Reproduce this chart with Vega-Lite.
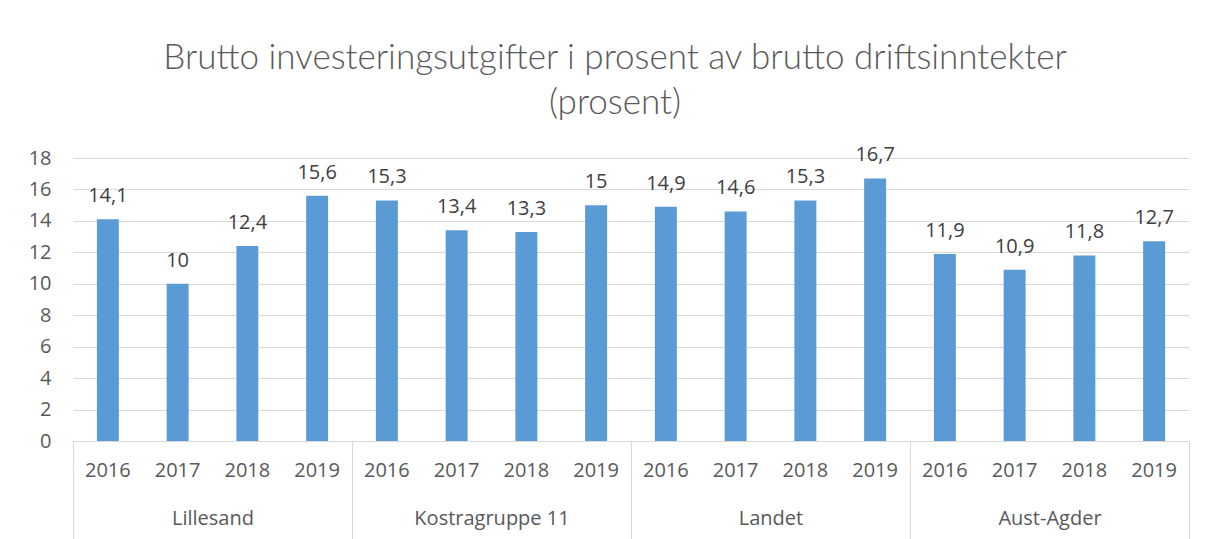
{
  "$schema": "https://vega.github.io/schema/vega-lite/v6.json",
  "width": 1116,
  "height": 283,
  "autosize": {"type": "none"},
  "padding": {"left": 73, "top": 158, "right": 19, "bottom": 98},
  "background": "white",
  "title": {
    "text": ["Brutto investeringsutgifter i prosent av brutto driftsinntekter", "(prosent)"],
    "orient": "top",
    "baseline": "bottom",
    "font": "Lato",
    "fontWeight": 300,
    "fontSize": 35,
    "color": "#595959",
    "lineHeight": 45,
    "anchor": "middle",
    "dx": -16,
    "offset": -11
  },
  "config": {
    "locale": {"number": {"decimal": ",", "thousands": " ", "grouping": [3], "currency": ["", " kr"]}},
    "view": {"stroke": null},
    "font": "Open Sans",
    "axis": {"labelFont": "Open Sans", "labelFontSize": 20, "labelColor": "#595959", "title": null, "labelOverlap": false}
  },
  "data": {
    "values": [
      {"gruppe": "Lillesand", "aar": "2016", "key": "Lillesand|2016", "verdi": 14.1},
      {"gruppe": "Lillesand", "aar": "2017", "key": "Lillesand|2017", "verdi": 10},
      {"gruppe": "Lillesand", "aar": "2018", "key": "Lillesand|2018", "verdi": 12.4},
      {"gruppe": "Lillesand", "aar": "2019", "key": "Lillesand|2019", "verdi": 15.6},
      {"gruppe": "Kostragruppe 11", "aar": "2016", "key": "Kostragruppe 11|2016", "verdi": 15.3},
      {"gruppe": "Kostragruppe 11", "aar": "2017", "key": "Kostragruppe 11|2017", "verdi": 13.4},
      {"gruppe": "Kostragruppe 11", "aar": "2018", "key": "Kostragruppe 11|2018", "verdi": 13.3},
      {"gruppe": "Kostragruppe 11", "aar": "2019", "key": "Kostragruppe 11|2019", "verdi": 15},
      {"gruppe": "Landet", "aar": "2016", "key": "Landet|2016", "verdi": 14.9},
      {"gruppe": "Landet", "aar": "2017", "key": "Landet|2017", "verdi": 14.6},
      {"gruppe": "Landet", "aar": "2018", "key": "Landet|2018", "verdi": 15.3},
      {"gruppe": "Landet", "aar": "2019", "key": "Landet|2019", "verdi": 16.7},
      {"gruppe": "Aust-Agder", "aar": "2016", "key": "Aust-Agder|2016", "verdi": 11.9},
      {"gruppe": "Aust-Agder", "aar": "2017", "key": "Aust-Agder|2017", "verdi": 10.9},
      {"gruppe": "Aust-Agder", "aar": "2018", "key": "Aust-Agder|2018", "verdi": 11.8},
      {"gruppe": "Aust-Agder", "aar": "2019", "key": "Aust-Agder|2019", "verdi": 12.7}
    ]
  },
  "encoding": {
    "y": {
      "field": "verdi",
      "type": "quantitative",
      "stack": null,
      "scale": {"domain": [0, 18], "nice": false},
      "axis": {
        "values": [0, 2, 4, 6, 8, 10, 12, 14, 16, 18],
        "grid": true,
        "gridColor": "#d9d9d9",
        "domain": false,
        "ticks": false,
        "labelPadding": 22
      }
    }
  },
  "layer": [
    {
      "encoding": {
        "x": {
          "field": "key",
          "type": "nominal",
          "sort": null,
          "scale": {"paddingInner": 0.685, "paddingOuter": 0.3425},
          "axis": {
            "orient": "bottom",
            "labelExpr": "split(datum.label, '|')[1]",
            "labelAngle": 0,
            "labelPadding": 19,
            "ticks": false,
            "domain": true,
            "domainColor": "#d9d9d9",
            "domainWidth": 1,
            "grid": false
          }
        }
      },
      "layer": [
        {"mark": {"type": "bar", "color": "#5B9BD5"}},
        {
          "mark": {"type": "text", "baseline": "alphabetic", "dy": -17, "fontSize": 20, "color": "#404040", "font": "Open Sans"},
          "encoding": {"text": {"field": "verdi", "type": "quantitative", "format": ".1~f"}}
        }
      ]
    },
    {
      "mark": {"type": "bar", "opacity": 0},
      "encoding": {
        "x": {
          "field": "gruppe",
          "type": "nominal",
          "sort": null,
          "scale": {"paddingInner": 0, "paddingOuter": 0},
          "axis": {
            "orient": "bottom",
            "labelAngle": 0,
            "domain": false,
            "ticks": true,
            "tickBand": "extent",
            "tickColor": "#d9d9d9",
            "tickSize": 98,
            "labelPadding": -31,
            "grid": false
          }
        }
      }
    }
  ],
  "resolve": {"scale": {"x": "independent"}, "axis": {"x": "independent"}}
}
